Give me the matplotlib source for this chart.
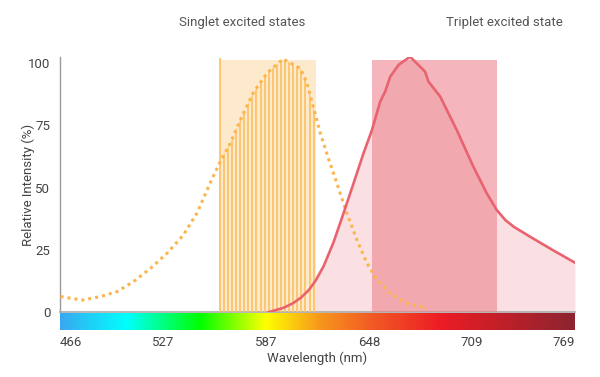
import numpy as np
import matplotlib
matplotlib.use('Agg')
import matplotlib.pyplot as plt
from matplotlib.colors import LinearSegmentedColormap

plt.rcParams['font.family'] = ['Roboto', 'DejaVu Sans']

# singlet emission (dotted orange curve)
singlet_nm = [466.3, 479.0, 489.8, 499.6, 509.2, 519.2, 529.0, 538.6, 546.6, 554.4,
              560.3, 566.2, 572.1, 579.7, 587.9, 597.2, 607.3, 611.3, 615.0, 619.1,
              623.8, 628.9, 634.8, 640.7, 646.6, 652.5, 660.3, 670.1, 681.9]
singlet_val = [6.3, 4.9, 6.3, 8.3, 12.3, 17.6, 23.7, 31.0, 39.8, 51.9,
               60.5, 67.8, 77.1, 88.0, 96.0, 101.6, 97.9, 91.9, 82.5, 72.0,
               62.0, 51.7, 39.7, 29.0, 19.7, 13.0, 7.6, 3.6, 1.6]

# triplet emission (solid red curve)
triplet_nm = [588.6, 597.5, 603.0, 608.0, 612.5, 616.5, 621.1, 626.9, 632.8, 638.7, 644.6, 649.5,
              654.4, 657.3, 660.3, 665.2, 672.0, 680.8, 682.8, 689.7, 699.5, 709.2,
              717.1, 723.0, 728.0, 733.0, 742.6, 756.3, 769.0]
triplet_val = [0.0, 1.8, 3.6, 6.0, 9.0, 12.8, 18.5, 28.0, 39.7, 51.7, 63.8, 73.0,
               84.5, 88.5, 94.5, 99.2, 102.5, 96.5, 92.5, 86.5, 73.0, 58.4,
               47.7, 41.0, 37.0, 34.3, 30.3, 24.8, 19.9]

singlet_band = (560.0, 616.5)
triplet_band = (649.7, 723.0)
band_labels = ['Singlet excited states', 'Triplet excited state']

tick_nm = np.linspace(466, 769, 6)
tick_labels = ['466', '527', '587', '648', '709', '769']

spectrum_nm = [466, 505, 548, 587, 620, 650, 690, 769]
spectrum_colors = ['#3aa8f0', '#00ffff', '#00ff00', '#ffff00', '#f7941d', '#f15a24', '#ed1c24', '#8c2430']

fig = plt.figure(figsize=(6, 3.77), dpi=100)
ax = fig.add_axes([0.1, 0.1716, 0.8583, 0.6774])
ax.set_xlim(466, 769)
ax.set_ylim(0, 102.4)

# pink fill under triplet curve
ax.fill_between(triplet_nm, 0, triplet_val, color='#fae0e3', lw=0, zorder=1)

# singlet band with stems clipped under the dotted curve
ax.axvspan(*singlet_band, ymax=101.2 / 102.4, color='#fde9cc', lw=0, zorder=2)
clip = ax.fill_between(singlet_nm, 0, singlet_val, color='none', lw=0)
stems = ax.vlines(np.arange(singlet_band[0] + 2.4, singlet_band[1], 2.4), 0, 102,
                  color='#fcc36a', lw=1.3, zorder=3)
stems.set_clip_path(clip.get_paths()[0], ax.transData)
ax.vlines(singlet_band[0], 0, 102, color='#fcc36a', lw=1.3, zorder=3)

# triplet band
ax.axvspan(*triplet_band, ymax=101.2 / 102.4, color='#eb7a85', alpha=0.55, lw=0, zorder=4)

ax.plot(singlet_nm, singlet_val, color='#fbb54c', lw=2.2, ls=(0, (1, 1.3)), zorder=5)
ax.plot(triplet_nm, triplet_val, color='#e8636f', lw=1.9, zorder=6)

ax.set_xticks([])
ax.set_yticks([0, 25, 50, 75, 100])
ax.tick_params(axis='y', length=0, pad=7, labelsize=9.5, labelcolor='#444444')
for s in ['top', 'right']:
    ax.spines[s].set_visible(False)
ax.spines['left'].set_color('#999999')
ax.spines['bottom'].set_color('#aaaaaa')
ax.spines['left'].set_linewidth(1)
ax.spines['bottom'].set_linewidth(1.2)
ax.set_ylabel('Relative Intensity (%)', fontsize=9.5, color='#444444')
ax.yaxis.set_label_coords(-0.049, 0.5)

ax.text(573.3, 116.4, band_labels[0], ha='center', va='center',
        fontsize=9.5, color='#555555', clip_on=False)
ax.text(727.3, 116.4, band_labels[1], ha='center', va='center',
        fontsize=9.5, color='#555555', clip_on=False)

# spectrum bar
cax = fig.add_axes([0.1, 0.1247, 0.8583, 0.0455])
pos = [(w - 466) / (769 - 466) for w in spectrum_nm]
cmap = LinearSegmentedColormap.from_list('spec', list(zip(pos, spectrum_colors)))
cax.imshow(np.linspace(0, 1, 512)[None, :], aspect='auto', cmap=cmap,
           extent=[466, 769, 0, 1])
cax.set_xlim(466, 769)
cax.set_yticks([])
cax.set_xticks(tick_nm)
cax.set_xticklabels(tick_labels)
cax.tick_params(axis='x', length=0, pad=4, labelsize=9.5, labelcolor='#444444')
labs = cax.get_xticklabels()
labs[0].set_ha('left')
labs[-1].set_ha('right')
for s in cax.spines.values():
    s.set_visible(False)
cax.set_xlabel('Wavelength (nm)', fontsize=9.5, color='#444444', labelpad=2)

fig.savefig('out.png', dpi=100)
